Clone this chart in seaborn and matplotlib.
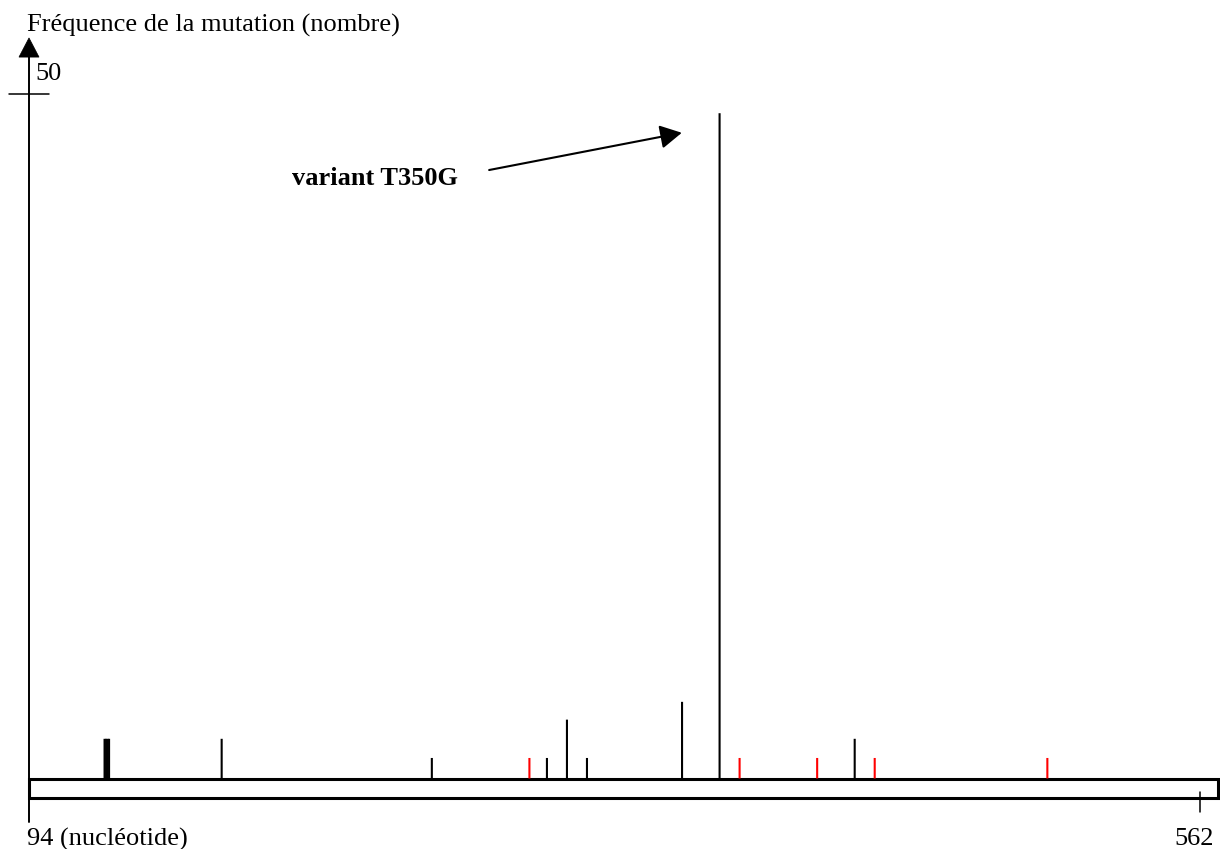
import matplotlib
matplotlib.use("Agg")
import matplotlib.pyplot as plt
import seaborn as sns
import pandas as pd
from matplotlib.patches import Rectangle, Polygon

# ---- data ----
positions = [124.2, 124.8, 125.4, 126.0, 171, 255, 294, 301, 309, 317, 355, 370, 378, 409, 424, 432, 501]
counts    = [2.9, 2.9, 2.9, 2.9, 2.9, 1.5, 1.5, 1.5, 4.3, 1.5, 5.6, 48.6, 1.5, 1.5, 2.9, 1.5, 1.5]
kinds     = ["noir", "noir", "noir", "noir", "noir", "noir", "rouge", "noir", "noir", "noir", "noir",
             "noir", "rouge", "rouge", "noir", "rouge", "rouge"]
x_start, x_end = 94, 562
y_tick = 50
title_text = "Fréquence de la mutation (nombre)"
x_label_left = "94 (nucléotide)"
x_label_right = "562"
annot_text = "variant T350G"

df = pd.DataFrame({"position": positions, "count": counts, "kind": kinds})
palette = {"noir": "black", "rouge": "#ff0000"}

sns.set_theme(style="white")
plt.rcParams["font.family"] = ["Liberation Serif", "DejaVu Serif"]

fig = plt.figure(figsize=(12.2, 8.49), dpi=100)
ax = fig.add_axes([0, 0, 1, 1])
ax.set_xlim(82.41, 570.0)
ax.set_ylim(-5.15, 56.87)
ax.axis("off")

# mutation lines
for kind, sub in df.groupby("kind"):
    ax.vlines(sub["position"], 0, sub["count"], colors=palette[kind], linewidth=1.5,
              zorder=3, snap=False)

# sequence bar (x axis)
ax.add_patch(Rectangle((x_start, -1.46), 569.2 - x_start, 1.46, fill=True,
                       facecolor="white", edgecolor="black", linewidth=2.2, zorder=2))

# y axis with arrow
ax.plot([x_start, x_start], [-3.18, 52.8], color="black", linewidth=1.4, zorder=4)
ax.add_patch(Polygon([[x_start - 4.0, 52.7], [x_start + 4.0, 52.7], [x_start, 54.1]],
                     closed=True, facecolor="black", edgecolor="black", linewidth=0.5, zorder=4))
# tick at 50
ax.plot([x_start - 8.0, x_start + 8.0], [y_tick, y_tick], color="black", linewidth=1.1, zorder=4)
ax.text(x_start + 2.4, 51.46, str(y_tick), fontsize=19, ha="left", va="center", color="black")
# tick at 562
ax.plot([x_end, x_end], [-0.99, -2.45], color="black", linewidth=1.1, zorder=4)

# texts
ax.text(x_start - 0.8, 55.04, title_text, fontsize=19, ha="left", va="center", color="black")
ax.text(x_start - 0.8, -4.42, x_label_left, fontsize=19, ha="left", va="center", color="black")
ax.text(567.6, -4.42, x_label_right, fontsize=19, ha="right", va="center", color="black")

ax.text(199.2, 43.86, annot_text, fontsize=19, fontweight="bold", ha="left", va="center", color="black")
ax.annotate("", xy=(354.9, 47.17), xytext=(277.9, 44.45),
            arrowprops=dict(arrowstyle="-|>,head_length=1.1,head_width=0.6",
                            color="black", linewidth=1.5, shrinkA=0, shrinkB=0))

fig.savefig("out.png", dpi=100)
